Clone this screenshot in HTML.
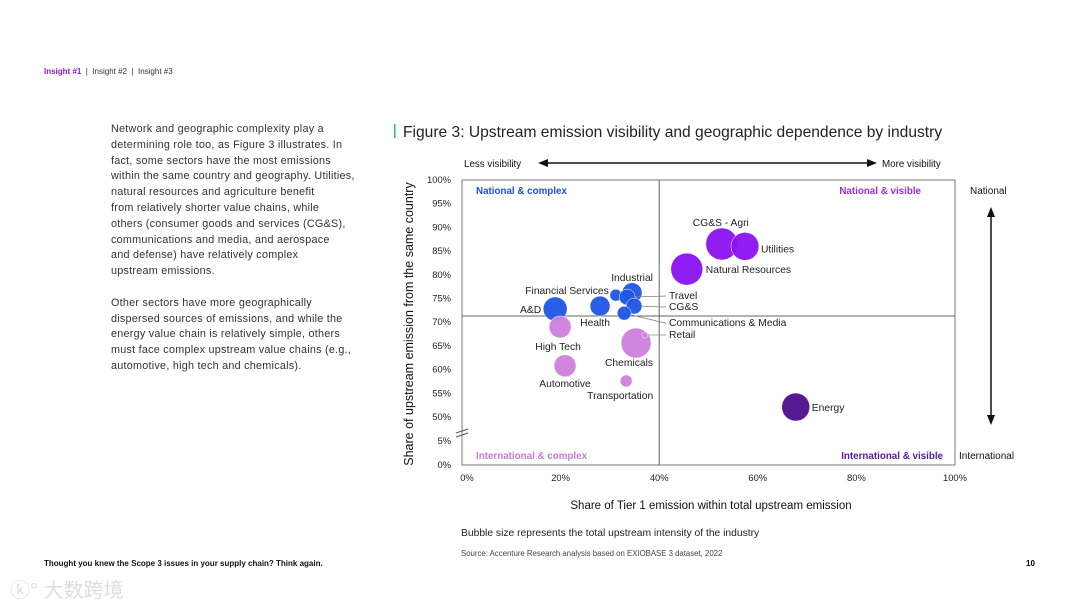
<!DOCTYPE html>
<html><head><meta charset="utf-8"><style>
body{margin:0;width:1080px;height:608px;background:#fff;font-family:"Liberation Sans",sans-serif;overflow:hidden;position:relative}
.abs{position:absolute}
</style></head><body>
<div class="abs" style="left:44px;top:67px;font-size:8px;color:#333"><b style="color:#8a1ad6">Insight #1</b> &nbsp;|&nbsp; <span>Insight #2</span> &nbsp;|&nbsp; <span>Insight #3</span></div>
<div class="abs" style="left:111px;top:122px;white-space:nowrap;font-size:10.8px;letter-spacing:0.25px;line-height:15.8px;color:#333">
<p style="margin:0 0 15.8px">Network and geographic complexity play a<br>determining role too, as Figure 3 illustrates. In<br>fact, some sectors have the most emissions<br>within the same country and geography. Utilities,<br>natural resources and agriculture benefit<br>from relatively shorter value chains, while<br>others (consumer goods and services (CG&amp;S),<br>communications and media, and aerospace<br>and defense) have relatively complex<br>upstream emissions.</p>
<p style="margin:0">Other sectors have more geographically<br>dispersed sources of emissions, and while the<br>energy value chain is relatively simple, others<br>must face complex upstream value chains (e.g.,<br>automotive, high tech and chemicals).</p></div>
<div class="abs" style="left:44px;top:559px;font-size:8px;font-weight:bold;color:#111">Thought you knew the Scope 3 issues in your supply chain? Think again.</div>
<div class="abs" style="left:1026px;top:559px;font-size:8px;font-weight:bold">10</div>
<div class="abs" style="left:10px;top:574px;font-size:20px;color:#ddd;font-family:'Liberation Sans','Noto Sans CJK SC',sans-serif">ⓚ° 大数跨境</div>
<svg class="abs" style="left:0;top:0" width="1080" height="608" id="chart" font-family="Liberation Sans, sans-serif">
<rect x="394" y="124" width="1.5" height="14" fill="#2bb3a0"/>
<text x="403" y="137" font-size="15.6" fill="#222">Figure 3: Upstream emission visibility and geographic dependence by industry</text>
<text x="464" y="167" font-size="9.8" fill="#111">Less visibility</text>
<text x="882" y="167" font-size="9.8" fill="#111">More visibility</text>
<g><line x1="545" y1="163" x2="870" y2="163" stroke="#111" stroke-width="1.5"/><polygon points="538,163 548,159 548,167" fill="#111"/><polygon points="877,163 867,159 867,167" fill="#111"/></g>
<text x="970" y="194" font-size="10" fill="#111">National</text>
<text x="959" y="459" font-size="10" fill="#111">International</text>
<g><line x1="991" y1="214" x2="991" y2="418" stroke="#111" stroke-width="1.5"/><polygon points="991,207 987,217 995,217" fill="#111"/><polygon points="991,425 987,415 995,415" fill="#111"/></g>
<text x="711" y="509" font-size="11.5" fill="#111" text-anchor="middle">Share of Tier 1 emission within total upstream emission</text>
<text transform="translate(413,324) rotate(-90)" font-size="12.5" fill="#111" text-anchor="middle">Share of upstream emission from the same country</text>
<text x="461" y="536" font-size="10.3" fill="#222">Bubble size represents the total upstream intensity of the industry</text>
<text x="461" y="556" font-size="7.8" fill="#444">Source: Accenture Research analysis based on EXIOBASE 3 dataset, 2022</text>
<text x="476" y="194" font-size="9.8" font-weight="bold" fill="#1d4fd8">National &amp; complex</text>
<text x="921" y="194" font-size="9.8" font-weight="bold" fill="#a02ae0" text-anchor="end">National &amp; visible</text>
<text x="476" y="459" font-size="9.8" font-weight="bold" fill="#c77ad6">International &amp; complex</text>
<text x="943" y="459" font-size="9.8" font-weight="bold" fill="#5a1a9a" text-anchor="end">International &amp; visible</text>
</svg>
<script>
const industries=["A&D","Financial Services","Health","Industrial","Travel","CG&S","Communications & Media","High Tech","Chemicals","Retail","Automotive","Transportation","CG&S - Agri","Utilities","Natural Resources","Energy"];
const tier1Share=[18.9,31.2,28,34.5,33.5,34.9,32.9,19.9,35.3,37.1,20.9,33.3,52.7,57.4,45.6,67.7];
const sameCountryShare=[72.8,75.7,73.4,76.2,75.3,73.4,71.9,69,65.6,67.3,60.8,57.6,86.5,86,81.2,52.1];
const intensity=[12,6,10,10,8,8,7,11,15,3,11,6,16,14,16,14];
const groups=["nc","nc","nc","nc","nc","nc","nc","ic","ic","ic","ic","ic","nv","nv","nv","iv"];
const xTicks=[0,20,40,60,80,100];
const yTicks=[0,5,50,55,60,65,70,75,80,85,90,95,100];
const xSplit=40, ySplit=71.3;
// label layout: [dx,dy,anchor,leaderToX]
const labelLayout=[[-14,4,"end"],[-7,-1,"end"],[-5,20,"middle"],[0,-12,"middle"],[41,2,"start",666],[35,4,"start",666],[45,13,"start",666],[-2,23,"middle"],[-7,23,"middle"],[24,3,"start",666],[0,21,"middle"],[-6,18,"middle"],[-1,-18,"middle"],[16,6,"start"],[19,4,"start"],[16,4,"start"]];
const colors={nc:"#1f55e6",ic:"#cc80da",nv:"#8a12f2",iv:"#4e0c8e"};
const L=462,R=955,T=180,B=465;
const xs=v=>L+v/100*(R-L);
const ys=v=>v>=50?417-(v-50)*4.74:465-v*4.8;
const svg=document.getElementById('chart');
const NS="http://www.w3.org/2000/svg";
function mk(t,a){const e=document.createElementNS(NS,t);for(const k in a)e.setAttribute(k,a[k]);svg.appendChild(e);return e;}
let e=mk('rect',{x:L,y:T,width:R-L,height:B-T,fill:"none",stroke:"#777","stroke-width":1});


e=mk('line',{x1:xs(xSplit),x2:xs(xSplit),y1:T,y2:B,stroke:"#666","stroke-width":1});


e=mk('line',{x1:L,x2:R,y1:ys(ySplit),y2:ys(ySplit),stroke:"#666","stroke-width":1});


xTicks.forEach(v=>{e=mk('text',{x:xs(v)+(v==0?5:0),y:481,"font-size":9.4,"text-anchor":"middle",fill:"#222"});e.textContent=v+"%";

});
yTicks.forEach(v=>{e=mk('text',{x:451,y:ys(v)+3,"font-size":9.4,"text-anchor":"end",fill:"#222"});e.textContent=v+"%";

});
e=mk('path',{d:"M456,433 l12,-4 M456,437 l12,-4",stroke:"#555",fill:"none"});


industries.forEach((n,i)=>{const cx=xs(tier1Share[i]),cy=ys(sameCountryShare[i]);
 const lay=labelLayout[i];
 if(lay[3]){e=mk('line',{x1:cx,y1:cy,x2:lay[3],y2:cy+lay[1]-3,stroke:"#888","stroke-width":0.8});
 
 }
 e=mk('circle',{cx:cx,cy:cy,r:intensity[i],fill:colors[groups[i]],"fill-opacity":0.95,stroke:"#fff","stroke-width":0.5});
 
 
});
industries.forEach((n,i)=>{const cx=xs(tier1Share[i]),cy=ys(sameCountryShare[i]);const lay=labelLayout[i];
 let tx=lay[3]?669:cx+lay[0];
 e=mk('text',{x:tx,y:cy+lay[1],"font-size":10.3,"text-anchor":lay[2],fill:"#222"});e.textContent=n;
 
 
});
</script>
</body></html>
